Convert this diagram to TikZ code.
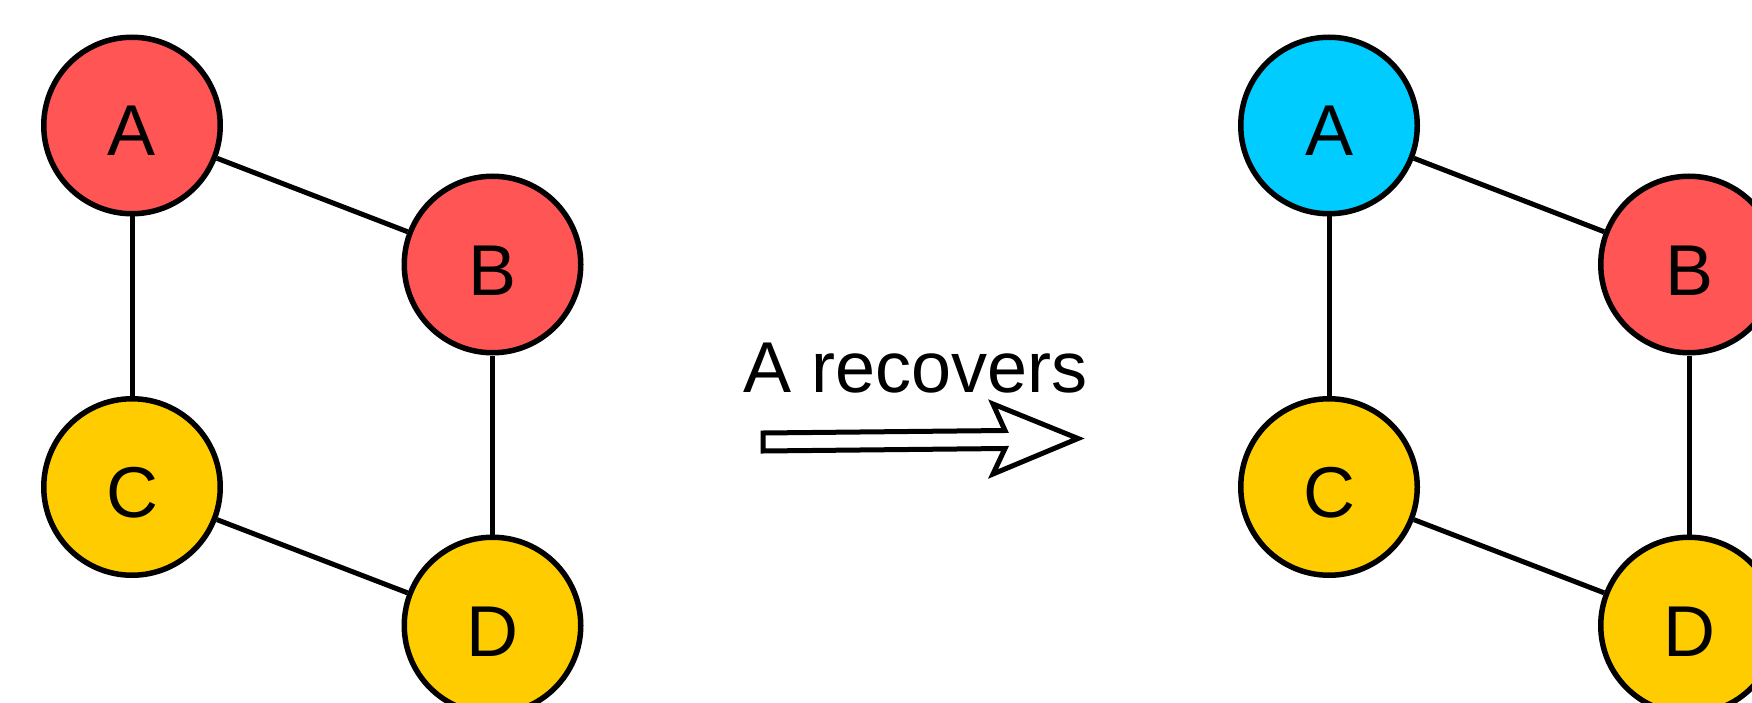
\documentclass[tikz,border=0pt]{standalone}
\usepackage{fontspec}
\setmainfont{Liberation Sans}
\definecolor{nodered}{HTML}{FF5555}
\definecolor{nodeyellow}{HTML}{FFCC00}
\definecolor{nodecyan}{HTML}{00CCFF}
\begin{document}
\begin{tikzpicture}[x=1pt,y=-1pt,
  vertex/.style={circle,draw=black,line width=5.5pt,minimum size=176.5pt,inner sep=0pt,
    font=\fontsize{72}{86}\selectfont,text height=61pt,text depth=0pt},
  redv/.style={vertex,fill=nodered},
  yelv/.style={vertex,fill=nodeyellow},
  cyanv/.style={vertex,fill=nodecyan},
  edge/.style={draw=black,line width=5pt},
  bigarrow/.style={draw=black,line width=5pt,fill=white,line join=miter}]
\useasboundingbox (0,0) rectangle (1752,703);
% left graph
\node[redv] (A1) at (132,125.5) {A};
\node[redv] (B1) at (492.5,264.5) {B};
\node[yelv] (C1) at (132,487) {C};
\node[yelv] (D1) at (492.5,625.5) {D};
\draw[edge] (A1) -- (B1);
\draw[edge] (A1) -- (C1);
\draw[edge] (B1) -- (D1);
\draw[edge] (C1) -- (D1);
% right graph
\node[cyanv] (A2) at (1329,125.5) {A};
\node[redv] (B2) at (1689,264.5) {B};
\node[yelv] (C2) at (1329,487) {C};
\node[yelv] (D2) at (1689,625.5) {D};
\draw[edge] (A2) -- (B2);
\draw[edge] (A2) -- (C2);
\draw[edge] (B2) -- (D2);
\draw[edge] (C2) -- (D2);
% arrow and label
\node[anchor=base,font=\fontsize{72}{86}\selectfont,inner sep=0pt] (lbl) at (915.5,392) {A recovers};
\coordinate (p1) at (763,433);
\coordinate (p2) at (1005,430.5);
\coordinate (p3) at (993,404);
\coordinate (p4) at (1078,438.5);
\coordinate (p5) at (993,474);
\coordinate (p6) at (1005,448.5);
\coordinate (p7) at (763,451);
\draw[bigarrow] (p1) -- (p2) -- (p3) -- (p4) -- (p5) -- (p6) -- (p7) -- cycle;
\end{tikzpicture}
\end{document}
